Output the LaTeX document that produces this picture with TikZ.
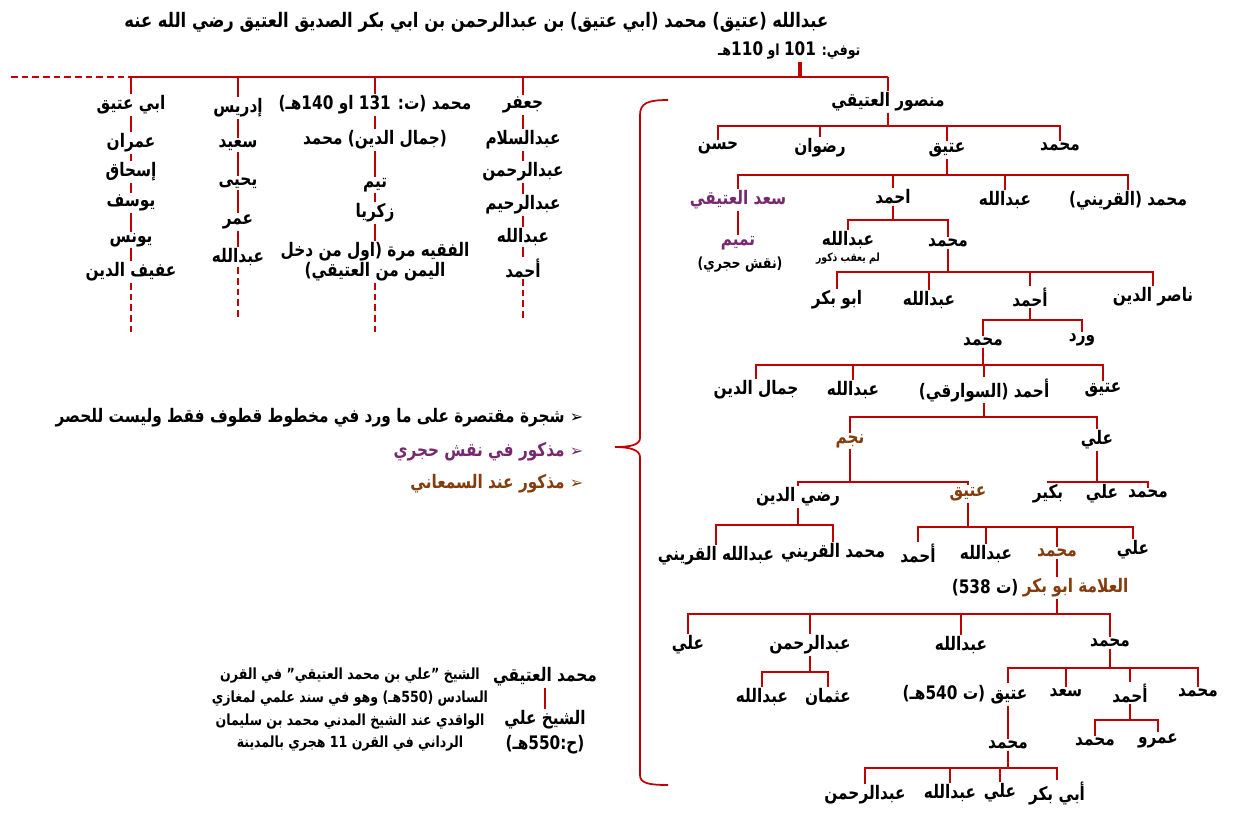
\documentclass[tikz,border=0pt]{standalone}
\usepackage{fontspec}
\setmainfont[Script=Arabic, FakeStretch=0.82]{DejaVu Sans}
\usetikzlibrary{positioning}
\TeXXeTstate=1
\definecolor{lred}{RGB}{192,0,0}
\definecolor{prp}{RGB}{120,40,110}
\definecolor{brn}{RGB}{132,60,12}
\newcommand\ar[1]{\beginR #1\endR}
\newcommand\mk{{\fontspec{DejaVu Sans}\fontsize{12}{12}\selectfont\char"27A2}}
\tikzset{
  nm/.style={inner sep=1pt, font=\bfseries\fontsize{14}{15}\selectfont},
  sm/.style={inner sep=0pt, font=\bfseries\fontsize{8.5}{9}\selectfont},
  br/.style={draw=lred, line width=1.8pt},
  dsh/.style={br, dash pattern=on 5pt off 3pt},
}
\begin{document}
\begin{tikzpicture}[x=0.75pt, y=-0.75pt]
\useasboundingbox (0,0) rectangle (1235,822);

% title
\node[nm, font=\bfseries\fontsize{15}{16}\selectfont, anchor=east] (ttl) at (830,22) {\ar{عبدالله (عتيق) محمد (ابي عتيق) بن عبدالرحمن بن ابي بكر الصديق العتيق رضي الله عنه}};
\node[nm, font=\bfseries\fontsize{11.5}{12}\selectfont, anchor=east] (dth) at (862,50) {\ar{توفي: {\fontsize{14}{14}\selectfont 101} او {\fontsize{14}{14}\selectfont 110}هـ}};
\coordinate (tk) at (800,62);
\coordinate (top) at (800,77);
\coordinate (tr) at (888,77);
\coordinate (tl) at (135,77);
\coordinate (te) at (10,77);
\draw[br, line width=3pt] (tk) -- (top);
\draw[br] (tr) -- (tl);
\draw[dsh] (tl) -- (te);

% right tree
\node[nm] (m0) at (888,102) {\ar{منصور العتيقي}};
\draw[br] (tr) -- (m0.north);
\node[nm] (a1) at (1060,147) {\ar{محمد}};
\node[nm] (a2) at (947,150) {\ar{عتيق}};
\node[nm] (a3) at (820,148) {\ar{رضوان}};
\node[nm] (a4) at (718,148) {\ar{حسن}};
\foreach \c in {a1,a2,a3,a4} \draw[br] (m0.south) -- (m0.south |- 0,126) -| (\c.north);

\node[nm] (b1) at (1128,201) {\ar{محمد (القريني)}};
\node[nm] (b2) at (1005,200) {\ar{عبدالله}};
\node[nm] (b3) at (893,197) {\ar{احمد}};
\node[nm, text=prp] (b4) at (738,200) {\ar{سعد العتيقي}};
\foreach \c in {b1,b2,b3,b4} \draw[br] (a2.south) -- (a2.south |- 0,175) -| (\c.north);

\node[nm, text=prp] (c1) at (738,243) {\ar{تميم}};
\node[nm, font=\bfseries\fontsize{11.5}{12}\selectfont] (c1n) at (740,265) {\ar{(نقش حجري)}};
\draw[br] (b4) -- (c1);

\node[nm] (c2) at (948,243) {\ar{محمد}};
\node[nm] (c3) at (848,240) {\ar{عبدالله}};
\node[sm] (c3n) at (848,259) {\ar{لم يعقب ذكور}};
\foreach \c in {c2,c3} \draw[br] (b3.south) -- (b3.south |- 0,220) -| (\c.north);

\node[nm] (d1) at (1153,297) {\ar{ناصر الدين}};
\node[nm] (d2) at (1030,297) {\ar{أحمد}};
\node[nm] (d3) at (929,300) {\ar{عبدالله}};
\node[nm] (d4) at (837,300) {\ar{ابو بكر}};
\foreach \c in {d1,d2,d3,d4} \draw[br] (c2.south) -- (c2.south |- 0,272) -| (\c.north);

\node[nm] (e1) at (1082,340) {\ar{ورد}};
\node[nm] (e2) at (983,342) {\ar{محمد}};
\foreach \c in {e1,e2} \draw[br] (d2.south) -- (d2.south |- 0,320) -| (\c.north);

\node[nm] (f1) at (1103,390) {\ar{عتيق}};
\node[nm] (f2) at (984,390) {\ar{أحمد (السوارقي)}};
\node[nm] (f3) at (853,390) {\ar{عبدالله}};
\node[nm] (f4) at (756,390) {\ar{جمال الدين}};
\foreach \c in {f1,f2,f3,f4} \draw[br] (e2.south) -- (e2.south |- 0,365) -| (\c.north);

\node[nm] (g1) at (1097,440) {\ar{علي}};
\node[nm, text=brn] (g2) at (850,441) {\ar{نجم}};
\foreach \c in {g1,g2} \draw[br] (f2.south) -- (f2.south |- 0,417) -| (\c.north);

\node[nm] (h1) at (1148,494) {\ar{محمد}};
\node[nm] (h2) at (1102,494) {\ar{علي}};
\node[nm] (h3) at (1048,494) {\ar{بكير}};
\foreach \c in {h1,h2,h3} \draw[br] (g1.south) -- (g1.south |- 0,482) -| (\c.north);

\node[nm, text=brn] (h4) at (968,494) {\ar{عتيق}};
\node[nm] (h5) at (798,497) {\ar{رضي الدين}};
\foreach \c in {h4,h5} \draw[br] (g2.south) -- (g2.south |- 0,482) -| (\c.north);

\node[nm] (i1) at (833,553) {\ar{محمد القريني}};
\node[nm] (i2) at (716,556) {\ar{عبدالله القريني}};
\foreach \c in {i1,i2} \draw[br] (h5.south) -- (h5.south |- 0,525) -| (\c.north);

\node[nm] (j1) at (1133,550) {\ar{علي}};
\node[nm, text=brn] (j2) at (1057,553) {\ar{محمد}};
\node[nm] (j3) at (986,554) {\ar{عبدالله}};
\node[nm] (j4) at (918,553) {\ar{أحمد}};
\foreach \c in {j1,j2,j3,j4} \draw[br] (h4.south) -- (h4.south |- 0,527) -| (\c.north);

\node[nm, text=brn, anchor=east] (k0) at (1130,588) {\ar{العلامة ابو بكر}};
\node[nm, left=1pt of k0] (k0d) {\ar{(ت 538)}};
\draw[br] (j2) -- (j2 |- k0.north);

\node[nm] (l1) at (1110,643) {\ar{محمد}};
\node[nm] (l2) at (961,645) {\ar{عبدالله}};
\node[nm] (l3) at (810,645) {\ar{عبدالرحمن}};
\node[nm] (l4) at (688,645) {\ar{علي}};
\foreach \c in {l1,l2,l3,l4} \draw[br] (k0.south -| j2) -- (j2 |- 0,614) -| (\c.north);

\node[nm] (n1) at (828,697) {\ar{عثمان}};
\node[nm] (n2) at (762,697) {\ar{عبدالله}};
\foreach \c in {n1,n2} \draw[br] (l3.south) -- (l3.south |- 0,672) -| (\c.north);

\node[nm] (o1) at (1198,693) {\ar{محمد}};
\node[nm] (o2) at (1130,693) {\ar{أحمد}};
\node[nm] (o3) at (1066,693) {\ar{سعد}};
\node[nm] (o4) at (965,695) {\ar{عتيق (ت 540هـ)}};
\coordinate (o4t) at (1008,683);
\foreach \c in {o1,o2,o3} \draw[br] (l1.south) -- (l1.south |- 0,668) -| (\c.north);
\draw[br] (l1.south |- 0,668) -| (o4t);

\node[nm] (p1) at (1158,741) {\ar{عمرو}};
\node[nm] (p2) at (1095,742) {\ar{محمد}};
\foreach \c in {p1,p2} \draw[br] (o2.south) -- (o2.south |- 0,720) -| (\c.north);

\node[nm] (q0) at (1008,745) {\ar{محمد}};
\draw[br] (o4.south -| q0) -- (q0.north);

\node[nm] (r1) at (1057,793) {\ar{أبي بكر}};
\node[nm] (r2) at (1000,793) {\ar{علي}};
\node[nm] (r3) at (950,793) {\ar{عبدالله}};
\node[nm] (r4) at (865,795) {\ar{عبدالرحمن}};
\foreach \c in {r1,r2,r3,r4} \draw[br] (q0.south) -- (q0.south |- 0,768) -| (\c.north);

% brace
\draw[br, line width=1.3pt] (668,100) .. controls (648,100) and (640,103) .. (640,115)
  -- (640,438) .. controls (640,445) and (630,447) .. (615,447)
  .. controls (630,447) and (640,450) .. (640,457)
  -- (640,775) .. controls (640,783) and (648,785) .. (668,785);

% legend
\node[nm, anchor=east] (lg1) at (585,418) {\ar{\mk\ شجرة مقتصرة على ما ورد في مخطوط قطوف فقط وليست للحصر}};
\node[nm, anchor=east, text=prp] (lg2) at (585,452) {\ar{\mk\ مذكور في نقش حجري}};
\node[nm, anchor=east, text=brn] (lg3) at (585,484) {\ar{\mk\ مذكور عند السمعاني}};

% left columns
\node[nm] (u1) at (523,105) {\ar{جعفر}};
\node[nm] (u2) at (523,140) {\ar{عبدالسلام}};
\node[nm] (u3) at (523,172) {\ar{عبدالرحمن}};
\node[nm] (u4) at (523,205) {\ar{عبدالرحيم}};
\node[nm] (u5) at (523,237) {\ar{عبدالله}};
\node[nm] (u6) at (523,268) {\ar{أحمد}};
\coordinate (u7) at (523,320);
\draw[br] (u1 |- top) -- (u1.north);
\foreach \a/\b in {u1/u2,u2/u3,u3/u4,u4/u5,u5/u6} \draw[br] (\a.south) -- (\b.north);
\draw[dsh] (u6.south) -- (u7);

\node[nm] (v1) at (375,105) {\ar{محمد (ت: 131 او 140هـ)}};
\node[nm] (v2) at (375,140) {\ar{(جمال الدين) محمد}};
\node[nm] (v3) at (375,185) {\ar{تيم}};
\node[nm] (v4) at (375,213) {\ar{زكريا}};
\node[nm, align=center] (v5) at (375,262) {\ar{الفقيه مرة (اول من دخل}\\\ar{اليمن من العتيقي)}};
\coordinate (v6) at (375,333);
\draw[br] (v1 |- top) -- (v1.north);
\foreach \a/\b in {v1/v2,v2/v3,v3/v4,v4/v5} \draw[br] (\a.south) -- (\b.north);
\draw[dsh] (v5.south) -- (v6);

\node[nm] (w1) at (238,108) {\ar{إدريس}};
\node[nm] (w2) at (238,145) {\ar{سعيد}};
\node[nm] (w3) at (238,183) {\ar{يحيى}};
\node[nm] (w4) at (238,222) {\ar{عمر}};
\node[nm] (w5) at (238,257) {\ar{عبدالله}};
\coordinate (w6) at (238,320);
\draw[br] (w1 |- top) -- (w1.north);
\foreach \a/\b in {w1/w2,w2/w3,w3/w4,w4/w5} \draw[br] (\a.south) -- (\b.north);
\draw[dsh] (w5.south) -- (w6);

\node[nm] (x1) at (131,105) {\ar{ابي عتيق}};
\node[nm] (x2) at (131,143) {\ar{عمران}};
\node[nm] (x3) at (131,172) {\ar{إسحاق}};
\node[nm] (x4) at (131,203) {\ar{يوسف}};
\node[nm] (x5) at (131,240) {\ar{يونس}};
\node[nm] (x6) at (131,272) {\ar{عفيف الدين}};
\coordinate (x7) at (131,333);
\draw[br] (x1 |- top) -- (x1.north);
\foreach \a/\b in {x1/x2,x2/x3,x3/x4,x4/x5,x5/x6} \draw[br] (\a.south) -- (\b.north);
\draw[dsh] (x6.south) -- (x7);

% bottom left note
\node[nm] (y1) at (545,677) {\ar{محمد العتيقي}};
\node[nm] (y2) at (545,720) {\ar{الشيخ علي}};
\node[nm] (y3) at (545,745) {\ar{(ح:550هـ)}};
\draw[br] (y1.south) -- (y2.north);
\node[nm, font=\bfseries\fontsize{11.5}{17}\selectfont, align=center] (y4) at (350,710)
  {\ar{الشيخ "علي بن محمد العتيقي" في القرن}\\\ar{السادس (550هـ) وهو في سند علمي لمغازي}\\\ar{الواقدي عند الشيخ المدني محمد بن سليمان}\\\ar{الرداني في القرن 11 هجري بالمدينة}};
\end{tikzpicture}
\end{document}
